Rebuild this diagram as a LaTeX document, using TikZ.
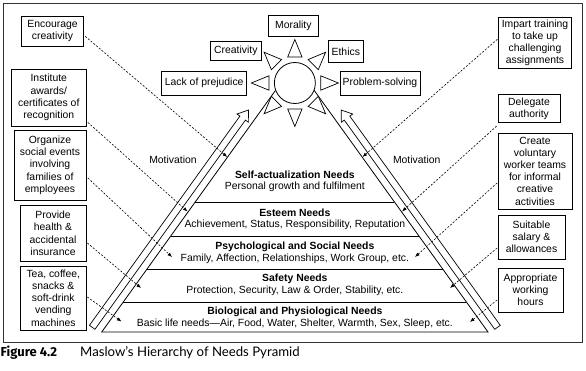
\documentclass[tikz,border=0pt]{standalone}
\usepackage{fontspec}
\setmainfont{Liberation Sans}
\newfontfamily\capfont{Lato}
\newfontfamily\capfontb{Fira Sans}
\usetikzlibrary{arrows.meta,calc}
\begin{document}
\begin{tikzpicture}[x=1pt,y=-1pt,
  box/.style={draw, line width=0.8pt, align=center, inner sep=0pt, font=\fontsize{10.4}{12.2}\selectfont},
  lvl/.style={font=\fontsize{10.4}{12}\selectfont},
  lvlb/.style={font=\fontsize{10.4}{12}\selectfont\bfseries},
  conn/.style={dash pattern=on 2pt off 1.6pt, line width=0.6pt, -{Latex[length=4.5pt,width=3.5pt]}},
  pyr/.style={line width=0.8pt},
  motarrow/.style={line width=0.7pt},
  ray/.style={draw, line width=0.7pt, fill=white}
]
\useasboundingbox (0,0) rectangle (586,370);
\draw[line width=1.2pt, black!80] (3.5,3.5) rectangle (582.5,342.5);

% pyramid
\coordinate (apex) at (294.85,63.5);
\coordinate (bl) at (101.7,332);
\coordinate (br) at (488,332);
\draw[pyr] (bl) -- (apex) -- (br) -- cycle;
\foreach \t in {0.4842,0.3575,0.2346,0.1117}
  \draw[pyr] ($(bl)!\t!(apex)$) -- ($(br)!\t!(apex)$);

% level texts
\node[lvlb] (t1) at (294.85,175) {Self-actualization Needs};
\node[lvl]  (s1) at (294.85,187) {Personal growth and fulfilment};
\node[lvlb] (t2) at (294.85,212.5) {Esteem Needs};
\node[lvl]  (s2) at (294.85,225) {Achievement, Status, Responsibility, Reputation};
\node[lvlb] (t3) at (294.85,246.5) {Psychological and Social Needs};
\node[lvl]  (s3) at (294.85,258.5) {Family, Affection, Relationships, Work\ Group, etc.};
\node[lvlb] (t4) at (294.85,278.5) {Safety Needs};
\node[lvl]  (s4) at (294.85,290.5) {Protection, Security, Law \& Order, Stability, etc.};
\node[lvlb] (t5) at (294.85,311.5) {Biological and Physiological Needs};
\node[lvl]  (s5) at (294.85,323.5) {Basic life needs—Air, Food, Water, Shelter, Warmth, Sex,\ Sleep, etc.};

% motivation arrows
\draw[motarrow] (89.44,325.31) -- (239.90,116.13) -- (236.98,114.03) -- (248.5,110)
  -- (248.34,122.21) -- (245.42,120.11) -- (94.96,329.29) -- cycle;
\draw[motarrow] (500.26,325.31) -- (349.80,116.13) -- (352.72,114.03) -- (341.2,110)
  -- (341.36,122.21) -- (344.28,120.11) -- (494.74,329.29) -- cycle;
\node[lvl] (mL) at (173,160) {Motivation};
\node[lvl] (mR) at (416.7,160) {Motivation};

% sun
\node[circle, draw, line width=0.8pt, fill=white, minimum size=41pt, inner sep=0pt] (sun) at (294.85,83) {};
\begin{scope}[shift={(sun.center)}]
  \foreach \a in {0,45,...,315}
    \draw[ray] (\a:43.5) -- (\a+15.5:26.9) -- (\a-15.5:26.9) -- cycle;
\end{scope}

% top boxes
\node[box, minimum width=50pt, minimum height=21.7pt] (mor) at (293.3,25.8) {Morality};
\node[box, minimum width=51.7pt, minimum height=18.3pt] (cre) at (235.8,50.8) {Creativity};
\node[box, minimum width=35pt, minimum height=22pt] (eth) at (345.8,51.7) {Ethics};
\node[box, minimum width=85pt, minimum height=23.3pt] (lop) at (204.2,83.3) {Lack of prejudice};
\node[box, minimum width=80pt, minimum height=23.3pt] (pso) at (380,83.3) {Problem-solving};

% left boxes
\node[box, minimum width=61.6pt, minimum height=30.7pt] (L1) at (52.5,31.3) {Encourage\\creativity};
\node[box, minimum width=74.3pt, minimum height=57pt] (L2) at (48.8,97.5) {Institute\\awards/\\certificates of\\recognition};
\node[box, minimum width=72pt, minimum height=69.3pt] (L3) at (50,165.3) {Organize\\social events\\involving\\families of\\employees};
\node[box, minimum width=66pt, minimum height=56.7pt] (L4) at (53,233.3) {Provide\\health \&\\accidental\\insurance};
\node[box, minimum width=65.3pt, minimum height=64pt] (L5) at (53.3,298) {Tea, coffee,\\snacks \&\\soft-drink\\vending\\machines};

% right boxes
\node[box, minimum width=73.4pt, minimum height=51pt] (R1) at (535,42.8) {Impart training\\to take up\\challenging\\assignments};
\node[box, minimum width=62pt, minimum height=28.4pt] (R2) at (529,108.5) {Delegate\\authority};
\node[box, minimum width=74pt, minimum height=76pt] (R3) at (535,171) {Create\\voluntary\\worker teams\\for informal\\creative\\activities};
\node[box, minimum width=67pt, minimum height=44pt] (R4) at (531.5,237) {Suitable\\salary \&\\allowances};
\node[box, minimum width=65pt, minimum height=44pt] (R5) at (530.5,290) {Appropriate\\working\\hours};

% connector targets
\coordinate (e1) at (227.2,157);
\coordinate (e2) at (187.5,211.5);
\coordinate (e3) at (172,257);
\coordinate (e4) at (141,288);
\coordinate (e5) at (121.5,321.5);
\coordinate (f1) at (362.5,157);
\coordinate (f2) at (402,211.5);
\coordinate (f3) at (415,257);
\coordinate (f4) at (450,288);
\coordinate (f5) at (470,322);

\draw[conn] ([xshift=1.5pt,yshift=-5pt]L1.east) -- (e1);
\draw[conn] ([xshift=1.5pt,yshift=4pt]L2.south east) -- (e2);
\draw[conn] ([xshift=1.5pt,yshift=-12.7pt]L3.east) -- (e3);
\draw[conn] ([xshift=1pt,yshift=-9.7pt]L4.east) -- (e4);
\draw[conn] ([xshift=1pt,yshift=1pt]L5.east) -- (e5);
\draw[conn] ([xshift=-0.5pt,yshift=3.5pt]R1.west) -- (f1);
\draw[conn] ([xshift=-1pt,yshift=-3pt]R2.south west) -- (f2);
\draw[conn] ([xshift=-0.5pt,yshift=-12pt]R3.west) -- (f3);
\draw[conn] ([xshift=-0.5pt,yshift=-11pt]R4.west) -- (f4);
\draw[conn] ([xshift=-0.5pt,yshift=-10pt]R5.west) -- (f5);

% caption
\node[anchor=base west, inner sep=0pt, font=\capfontb\bfseries\fontsize{13}{15}\selectfont] (capA) at (0.5,356.5) {Figure 4.2};
\node[anchor=base west, inner sep=0pt, font=\capfont\fontsize{13.2}{15}\selectfont] (capB) at (80,356.5) {Maslow’s Hierarchy of Needs Pyramid};
\end{tikzpicture}
\end{document}
